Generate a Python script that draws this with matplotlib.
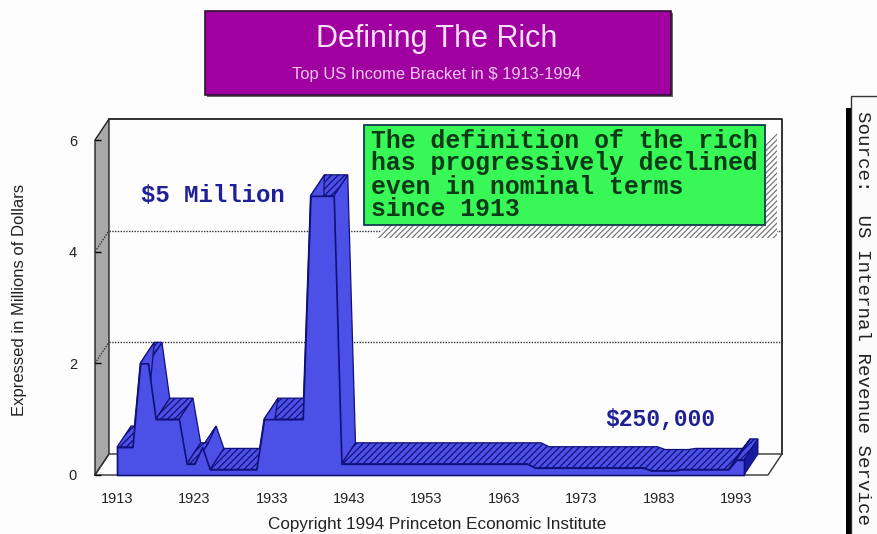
import matplotlib
matplotlib.use("Agg")
import matplotlib.pyplot as plt
from matplotlib.patches import Polygon, Rectangle

years = list(range(1913, 1995))
values = [0.5, 0.5, 0.5, 2.0, 2.0, 1.0, 1.0, 1.0, 1.0, 0.2,
          0.2, 0.5, 0.1, 0.1, 0.1, 0.1, 0.1, 0.1, 0.1, 1.0,
          1.0, 1.0, 1.0, 1.0, 1.0, 5.0, 5.0, 5.0, 5.0, 0.2,
          0.2, 0.2, 0.2, 0.2, 0.2, 0.2, 0.2, 0.2, 0.2, 0.2,
          0.2, 0.2, 0.2, 0.2, 0.2, 0.2, 0.2, 0.2, 0.2, 0.2,
          0.2, 0.2, 0.2, 0.2, 0.13, 0.13, 0.13, 0.13, 0.13, 0.13,
          0.13, 0.13, 0.13, 0.13, 0.13, 0.13, 0.13, 0.13, 0.13, 0.08,
          0.08, 0.08, 0.08, 0.1, 0.1, 0.1, 0.1, 0.1, 0.1, 0.1,
          0.27, 0.27]
year_ticks = [1913, 1923, 1933, 1943, 1953, 1963, 1973, 1983, 1993]
value_ticks = [0, 2, 4, 6]
grid_values = [2, 4]

W, H = 878, 534
BLUE, NAVY, CAP = "#4c50e6", "#10107a", "#1a1aa0"
DARKBLUE = "#1f1f96"

plt.rcParams["font.family"] = ["Liberation Sans", "DejaVu Sans"]
plt.rcParams["hatch.linewidth"] = 0.9
fig = plt.figure(figsize=(W / 100, H / 100), dpi=100, facecolor="#fdfdfd")

def fx(px):
    return px / W

def fy(py):
    return 1 - py / H

ax = fig.add_axes([fx(95), fy(475), (768 - 95) / W, (475 - 140) / H])
ax.patch.set_alpha(0)
for s in ax.spines.values():
    s.set_visible(False)
x0 = 1913 - 22 / 7.74
x1 = 1913 + (768 - 117) / 7.74
ax.set_xlim(x0, x1)
ax.set_ylim(0, 6)
dx, dy = 14 / 7.74, 21 / 55.8   # depth of the 3-D box

# walls
ax.add_patch(Polygon([(x0, 0), (x0, 6), (x0 + dx, 6 + dy), (x0 + dx, dy)],
                     fc="#a8a8a8", ec="#222222", lw=1, clip_on=False, zorder=1))
ax.plot([x0 + dx, x1 + dx, x1 + dx], [6 + dy, 6 + dy, dy], color="#222222", lw=1.3,
        clip_on=False, zorder=1)
ax.plot([x0, x0 + dx, x1 + dx, x1, x0], [0, dy, dy, 0, 0], color="#333333", lw=1,
        clip_on=False, zorder=1)
for g in grid_values:
    ax.plot([x0, x0 + dx], [g, g + dy], color="#333333", lw=1, ls=(0, (1, 1)),
            clip_on=False, zorder=2)
    ax.plot([x0 + dx, x1 + dx], [g + dy, g + dy], color="#333333", lw=1, ls=(0, (1, 1)),
            clip_on=False, zorder=2)

# group the top surface into runs: near-flat stretches are hatched, slopes are plain
runs = []
for i in range(len(years) - 1):
    flat = abs(values[i] - values[i + 1]) < 0.1
    if runs and runs[-1][0] and flat:
        runs[-1][1].append(i + 1)
    else:
        runs.append((flat, [i, i + 1]))

z = 3.0
for flat, idx in reversed(runs):
    fr = [(years[k], values[k]) for k in idx]
    bk = [(years[k] + dx, values[k] + dy) for k in reversed(idx)]
    ax.add_patch(Polygon(fr + bk, fc=BLUE, ec=NAVY, lw=0.9, hatch="/////" if flat else None,
                         clip_on=False, zorder=z))
    z += 0.001
ax.add_patch(Polygon([(years[-1], 0), (years[-1], values[-1]),
                      (years[-1] + dx, values[-1] + dy), (years[-1] + dx, dy)],
                     fc=CAP, ec=NAVY, lw=0.8, clip_on=False, zorder=3))
ax.fill_between(years, values, 0, fc=BLUE, ec=NAVY, lw=1.2, zorder=4, clip_on=False)

ax.set_xticks(year_ticks)
ax.set_yticks(value_ticks)
ax.tick_params(axis="x", length=0, pad=12, labelsize=10.5, labelcolor="#222222")
ax.tick_params(axis="y", direction="in", length=4, width=1, pad=13, labelsize=10.5,
               labelcolor="#222222", color="black")
ax.set_axisbelow(False)

# overlay in pixel space for boxes and annotations
ov = fig.add_axes([0, 0, 1, 1], facecolor="none")
ov.set_xlim(0, W)
ov.set_ylim(H, 0)
ov.axis("off")

# title panel
ov.add_patch(Rectangle((207, 13), 466, 84, fc="#666666", ec="none"))
ov.add_patch(Rectangle((205, 11), 466, 84, fc="#a000a0", ec="#301030", lw=1.2))
ov.text(437, 39, "Defining The Rich", color="#fbe0fb", fontsize=22, ha="center", va="center")
ov.text(436, 74, "Top US Income Bracket in $ 1913-1994", color="#f0c8f0", fontsize=11.9,
        ha="center", va="center")

# callout
ov.add_patch(Polygon([(375, 238), (777, 238), (777, 133), (765, 145), (765, 225), (386, 225)],
                     fc="white", ec="#777777", lw=0, hatch="//////", zorder=5))
ov.add_patch(Rectangle((364, 125), 401, 100, fc="#38f858", ec="#123a50", lw=1.3, zorder=6))
callout = ["The definition of the rich", "has progressively declined",
           "even in nominal terms", "since 1913"]
for line, y in zip(callout, [141, 163, 187, 209]):
    ov.text(371, y, line, family="Liberation Mono", fontsize=17.8, color="#0c3a18",
            va="center", ha="left", zorder=7, fontweight="bold")

ov.text(213, 195, "$5 Million", family="Liberation Mono", fontsize=17.3, color=DARKBLUE,
        ha="center", va="center", fontweight="bold")
ov.text(660, 420, "$250,000", family="Liberation Mono", fontsize=16.6, color=DARKBLUE,
        ha="center", va="center", fontweight="bold")

ov.text(20, 300, "Expressed in Millions of Dollars", rotation=90, fontsize=12,
        color="#222222", ha="center", va="center")
ov.text(437, 524, "Copyright 1994 Princeton Economic Institute", fontsize=12.3,
        color="#222222", ha="center", va="center")

# source panel
ov.add_patch(Rectangle((846, 108), 8, 426, fc="black", ec="none"))
ov.add_patch(Rectangle((851.5, 96), 30, 440, fc="#fbfbfb", ec="#333333", lw=1, clip_on=True))
ov.text(863, 318, "Source:  US Internal Revenue Service", family="Liberation Mono",
        fontsize=13.8, rotation=270, color="#222222", ha="center", va="center")

fig.savefig("out.png", dpi=100, facecolor=fig.get_facecolor())
